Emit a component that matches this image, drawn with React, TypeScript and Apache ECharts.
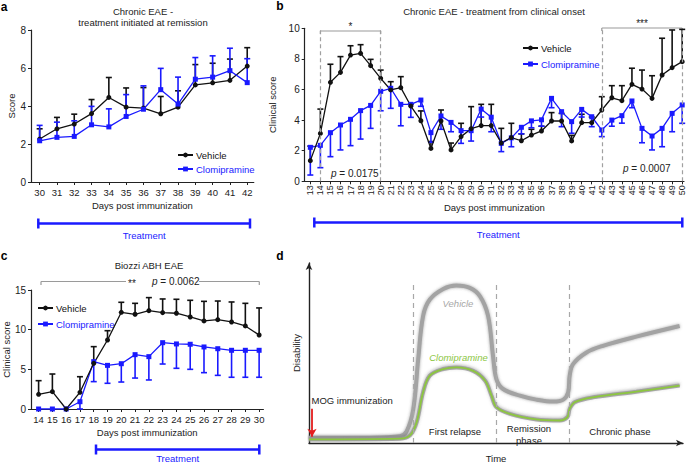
import React, { useEffect, useRef } from 'react';
import * as echarts from 'echarts';

const FONT = '"Liberation Sans", Arial, Helvetica, sans-serif';
const BLUE = '#1a1aff';
const BLACK = '#111111';

// Panel a
const aDays = [30, 31, 32, 33, 34, 35, 36, 37, 38, 39, 40, 41, 42];
const aVehicle = [2.26, 2.8, 3.05, 3.6, 4.45, 3.94, 3.89, 3.59, 3.94, 5.11, 5.22, 5.35, 6.1];
const aVehicleErr = [2.8, 3.4, 3.57, 4.34, 5.5, 4.95, 4.97, 4.5, 4.8, 6.18, 6.25, 6.47, 7.07];
const aClomi = [2.17, 2.35, 2.4, 3.01, 2.9, 3.45, 3.83, 4.86, 4.1, 5.41, 5.52, 5.86, 5.23];
const aClomiErr = [2.98, 3.15, 3.22, 3.98, 3.85, 4.6, 5.06, 5.98, 5.52, 6.55, 6.64, 7.04, 6.49];

// Panel b
const bDays = [13, 14, 15, 16, 17, 18, 19, 20, 21, 22, 23, 24, 25, 26, 27, 28, 29, 30, 31, 32, 33, 34, 35, 36, 37, 38, 39, 40, 41, 42, 43, 44, 45, 46, 47, 48, 49, 50];
const bVehicle = [1.35, 3.13, 6.47, 7.12, 8.25, 8.36, 7.56, 6.73, 5.97, 6.12, 4.92, 3.96, 2.15, 3.94, 2.05, 2.92, 3.44, 3.64, 3.64, 2.5, 2.86, 2.65, 3.02, 3.29, 3.94, 3.94, 2.64, 3.83, 3.83, 4.66, 5.46, 5.27, 6.34, 6.03, 5.42, 6.95, 7.43, 7.82];
const bVehicleErr = [2.3, 4.72, 7.65, 8.15, 8.86, 8.93, 7.97, 7.27, 6.51, 6.84, 5.05, 4.6, 2.6, 4.66, 2.5, 3.79, 4.88, 5.03, 5.03, 3.46, 3.79, 3.1, 3.4, 3.6, 4.49, 4.44, 3.0, 4.38, 4.2, 5.53, 6.25, 6.25, 7.39, 7.27, 6.9, 9.35, 9.89, 9.93];
const bClomi = [2.22, 2.35, 3.18, 3.68, 4.05, 4.62, 4.96, 5.88, 6.08, 5.03, 5.03, 5.31, 3.18, 4.27, 3.85, 3.31, 3.31, 4.72, 4.19, 2.48, 2.84, 3.53, 3.95, 4.02, 5.42, 4.55, 3.9, 4.7, 4.22, 3.35, 4.0, 4.29, 5.25, 3.46, 2.96, 3.46, 4.44, 4.99];
const bClomiErr = [0.41, 0.89, 1.61, 2.05, 2.33, 2.76, 3.46, 4.61, 4.77, 3.63, 4.18, 4.9, 2.55, 3.4, 3.24, 2.48, 2.63, 4.2, 3.24, 1.94, 2.26, 3.1, 3.5, 3.6, 4.81, 3.57, 3.14, 4.2, 3.57, 2.92, 3.6, 3.8, 4.81, 2.52, 2.05, 2.26, 3.24, 3.79];

// Panel c
const cDays = [14, 15, 16, 17, 18, 19, 20, 21, 22, 23, 24, 25, 26, 27, 28, 29, 30];
const cVehicle = [1.85, 2.18, 0, 2.1, 5.76, 8.7, 12.19, 11.94, 12.4, 12.15, 12.07, 11.6, 11.1, 11.26, 10.97, 10.47, 9.33];
const cVehicleErr = [3.57, 4.41, 0, 4.07, 7.86, 9.87, 13.45, 13.32, 14.04, 13.87, 13.83, 13.7, 13.57, 13.61, 13.49, 13.32, 12.74];
const cClomi = [0, 0, 0, 0.92, 5.97, 5.5, 5.71, 6.85, 6.6, 8.36, 8.2, 8.16, 7.82, 7.6, 7.4, 7.4, 7.4];
const cClomiErr = [0, 0, 0, 0, 3.45, 3.24, 3.4, 3.9, 3.66, 5.67, 5.13, 5.0, 4.58, 4.24, 4.0, 4.0, 4.0];

// Panel d (schematic)
const dVehicleT = [0, 16.3, 24.3, 26.1, 27.9, 29.2, 30.5, 32.3, 35.9, 39.4, 43, 45.7, 47.9, 49.2, 50.1, 51.9, 56.4, 60.8, 65.3, 68, 69.3, 69.7, 70.6, 74.2, 78.6, 87.5, 99.1];
const dVehicleY = [2.9, 2.9, 3.7, 6.4, 19, 46.6, 70.5, 79.7, 85.6, 87.5, 86.2, 81.6, 70.5, 48.4, 35.5, 30, 26.3, 24.1, 23, 24.1, 28.2, 37.4, 43.8, 50.3, 54, 59.1, 65];
const dClomiT = [0, 24.3, 27, 28.8, 30.5, 32.3, 35.9, 39.4, 43.9, 47.1, 48.8, 50.1, 53.7, 60.8, 67, 69.1, 69.7, 71.1, 76, 87.5, 99.1];
const dClomiY = [2, 2.4, 4.2, 11.6, 28.2, 37.4, 41.1, 42, 40.1, 34.6, 26.3, 19.9, 16.2, 13.1, 12.5, 14.4, 19, 22.7, 25.4, 28.5, 31.9];
const dPhaseBounds = [27.9, 50, 69.5];

const zip = (xs: number[], ys: number[]) => xs.map((x, i) => [x, ys[i]]);
const zip3 = (xs: number[], ys: number[], es: number[]) => xs.map((x, i) => [x, ys[i], es[i]]);

const errRender = (color: string) => (params: any, api: any) => {
  const x = api.value(0);
  const v = api.value(1);
  const e = api.value(2);
  if (Math.abs(e - v) < 1e-6) return null;
  const p1 = api.coord([x, v]);
  const p2 = api.coord([x, e]);
  return {
    type: 'group',
    children: [
      { type: 'line', shape: { x1: p1[0], y1: p1[1], x2: p2[0], y2: p2[1] }, style: { stroke: color, lineWidth: 1.6 } },
      { type: 'line', shape: { x1: p2[0] - 3, y1: p2[1], x2: p2[0] + 3, y2: p2[1] }, style: { stroke: color, lineWidth: 1.6 } },
    ],
  };
};

const axisText = { fontSize: 9.5, color: '#222', fontFamily: FONT };

const dayAxis = (gridIndex: number, min: number, max: number, days: number[], nameGap: number, rotate = 0, fontSize = 9.5) => ({
  type: 'value',
  gridIndex,
  min,
  max,
  axisLine: { show: true, lineStyle: { color: '#222', width: 1.2 } },
  axisTick: { show: true, customValues: days, length: 3, lineStyle: { color: '#222', width: 1 } },
  axisLabel: { customValues: days, ...axisText, fontSize, margin: rotate ? 4 : 5, rotate },
  splitLine: { show: false },
  name: 'Days post immunization',
  nameLocation: 'middle',
  nameGap,
  nameTextStyle: { ...axisText, fontSize: 9.5 },
});

const scoreAxis = (gridIndex: number, max: number, interval: number, name: string, nameGap: number) => ({
  type: 'value',
  gridIndex,
  min: 0,
  max,
  interval,
  axisLine: { show: true, lineStyle: { color: '#222', width: 1.2 } },
  axisTick: { show: true, length: 3, lineStyle: { color: '#222', width: 1 } },
  axisLabel: { ...axisText, fontSize: 10, margin: 5 },
  splitLine: { show: false },
  name,
  nameLocation: 'middle',
  nameGap,
  nameRotate: 90,
  nameTextStyle: { ...axisText, fontSize: 9.5 },
});

const lineSeries = (name: string, xi: number, xs: number[], ys: number[], color: string, symbol: string, extra: any = {}) => ({
  type: 'line',
  name,
  xAxisIndex: xi,
  yAxisIndex: xi,
  data: zip(xs, ys),
  symbol,
  symbolSize: 5,
  itemStyle: { color },
  lineStyle: { color, width: 1.3 },
  z: 4,
  ...extra,
});

const errSeries = (xi: number, xs: number[], ys: number[], es: number[], color: string) => ({
  type: 'custom',
  xAxisIndex: xi,
  yAxisIndex: xi,
  renderItem: errRender(color),
  data: zip3(xs, ys, es),
  encode: { x: 0, y: [1, 2] },
  z: 3,
  silent: true,
});

const legendAt = (left: number, top: number, gap: number) => ({
  left,
  top,
  orient: 'vertical',
  itemWidth: 15,
  itemHeight: 6,
  itemGap: gap,
  selectedMode: false,
  data: [
    { name: 'Vehicle', textStyle: { color: '#111' } },
    { name: 'Clomipramine', textStyle: { color: BLUE } },
  ],
  textStyle: { fontSize: 9.5, fontFamily: FONT, padding: [0, 0, 0, -2] },
});

const txt = (text: string, x: number, y: number, extra: any = {}) => ({
  type: 'text',
  style: { text, x, y, fill: '#222', fontSize: 9.5, fontFamily: FONT, textAlign: 'center', textVerticalAlign: 'middle', ...extra },
  silent: true,
});

const hline = (x1: number, x2: number, y: number, stroke: string, lineWidth: number) => ({
  type: 'line',
  shape: { x1, y1: y, x2, y2: y },
  style: { stroke, lineWidth },
  silent: true,
});

const vline = (x: number, y1: number, y2: number, stroke: string, lineWidth: number) => ({
  type: 'line',
  shape: { x1: x, y1, x2: x, y2 },
  style: { stroke, lineWidth },
  silent: true,
});

const treatment = (x1: number, x2: number, y: number, ty: number) => [
  hline(x1, x2, y, BLUE, 2.5),
  vline(x1, y - 5, y + 5, BLUE, 2.5),
  vline(x2, y - 5, y + 5, BLUE, 2.5),
  txt('Treatment', (x1 + x2) / 2, ty, { fill: BLUE, fontSize: 9.5 }),
];

const bracket = (x1: number, x2: number, y: number) => [
  hline(x1, x2, y, '#9a9a9a', 1.2),
  vline(x1, y, y + 3, '#9a9a9a', 1.2),
  vline(x2, y, y + 3, '#9a9a9a', 1.2),
];

const pText = (val: string, x: number, y: number, align = 'left') => ({
  type: 'text',
  style: {
    text: '{i|p} = ' + val,
    x,
    y,
    fill: '#222',
    fontSize: 10,
    fontFamily: FONT,
    textAlign: align,
    textVerticalAlign: 'middle',
    rich: { i: { fontStyle: 'italic', fontSize: 10, fontFamily: FONT, fill: '#222' } },
  },
  silent: true,
});

export default function App() {
  const ref = useRef<HTMLDivElement>(null);
  useEffect(() => {
    if (!ref.current) return;
    const chart = echarts.init(ref.current, null, { renderer: 'svg' });
    const dGray = '#a3a3a3';
    const dGreen = '#8cc63f';
    const option: any = {
      animation: false,
      backgroundColor: '#ffffff',
      textStyle: { fontFamily: FONT },
      grid: [
        { left: 31, top: 30, width: 222.8, height: 152 },
        { left: 304.7, top: 28.3, width: 379.3, height: 153 },
        { left: 30.7, top: 290, width: 232.7, height: 119 },
        { left: 309, top: 263, width: 374, height: 181 },
      ],
      xAxis: [
        dayAxis(0, 29.5, 42.38, aDays, 18),
        dayAxis(1, 12.44, 50.18, bDays, 21, 90, 9),
        dayAxis(2, 13.45, 30.31, cDays, 18),
        {
          type: 'value', gridIndex: 3, min: 0, max: 100,
          axisLine: { show: true, symbol: ['none', 'arrow'], symbolSize: [5, 7], lineStyle: { color: '#222', width: 1.4 } },
          axisTick: { show: false }, axisLabel: { show: false }, splitLine: { show: false },
          name: 'Time', nameLocation: 'middle', nameGap: 10, nameTextStyle: { ...axisText, fontSize: 9.5 },
        },
      ],
      yAxis: [
        scoreAxis(0, 8, 2, 'Score', 14),
        scoreAxis(1, 10, 2, 'Clinical score', 19),
        scoreAxis(2, 15, 5, 'Clinical score', 15),
        {
          type: 'value', gridIndex: 3, min: 0, max: 100,
          axisLine: { show: true, symbol: ['none', 'arrow'], symbolSize: [5, 7], lineStyle: { color: '#222', width: 1.4 } },
          axisTick: { show: false }, axisLabel: { show: false }, splitLine: { show: false },
          name: 'Disability', nameLocation: 'middle', nameGap: 8, nameRotate: 90, nameTextStyle: { ...axisText, fontSize: 9.5 },
        },
      ],
      legend: [legendAt(172, 145, 4), legendAt(517, 38, 6), legendAt(32, 298, 6)],
      series: [
        // a
        errSeries(0, aDays, aVehicle, aVehicleErr, BLACK),
        errSeries(0, aDays, aClomi, aClomiErr, BLUE),
        lineSeries('Vehicle', 0, aDays, aVehicle, BLACK, 'circle'),
        lineSeries('Clomipramine', 0, aDays, aClomi, BLUE, 'rect'),
        // b
        errSeries(1, bDays, bVehicle, bVehicleErr, BLACK),
        errSeries(1, bDays, bClomi, bClomiErr, BLUE),
        lineSeries('Clomipramine', 1, bDays, bClomi, BLUE, 'rect', {
          markLine: {
            silent: true,
            symbol: ['none', 'none'],
            label: { show: false },
            lineStyle: { color: '#a0a0a0', type: [4, 3], width: 1.2 },
            data: [{ xAxis: 14 }, { xAxis: 20 }, { xAxis: 42 }, { xAxis: 50 }],
          },
        }),
        lineSeries('Vehicle', 1, bDays, bVehicle, BLACK, 'circle'),
        // c
        errSeries(2, cDays, cVehicle, cVehicleErr, BLACK),
        errSeries(2, cDays, cClomi, cClomiErr, BLUE),
        lineSeries('Clomipramine', 2, cDays, cClomi, BLUE, 'rect'),
        lineSeries('Vehicle', 2, cDays, cVehicle, BLACK, 'circle'),
        // d
        {
          type: 'line', name: 'dVehicle', xAxisIndex: 3, yAxisIndex: 3,
          data: zip(dVehicleT, dVehicleY), smooth: 0.35, showSymbol: false, symbol: 'none',
          lineStyle: { color: dGray, width: 4, shadowColor: 'rgba(90,90,90,0.55)', shadowBlur: 3 },
          z: 3,
          markLine: {
            silent: true,
            symbol: ['none', 'none'],
            label: { show: false },
            lineStyle: { color: '#a8a8a8', type: [5, 4], width: 1.2 },
            data: dPhaseBounds.map((t) => [{ coord: [t, 0] }, { coord: [t, 89] }]),
          },
        },
        {
          type: 'line', name: 'dClomiShadow', xAxisIndex: 3, yAxisIndex: 3,
          data: zip(dClomiT, dClomiY), smooth: 0.35, showSymbol: false, symbol: 'none',
          lineStyle: { color: 'rgba(150,150,150,0.8)', width: 4, shadowColor: 'rgba(90,90,90,0.5)', shadowBlur: 3, shadowOffsetY: -1 },
          z: 3,
        },
        {
          type: 'line', name: 'dClomipramine', xAxisIndex: 3, yAxisIndex: 3,
          data: zip(dClomiT, dClomiY), smooth: 0.35, showSymbol: false, symbol: 'none',
          lineStyle: { color: dGreen, width: 1.8 },
          z: 4,
          markLine: {
            silent: true,
            symbol: ['none', 'arrow'],
            symbolSize: [7, 8],
            label: { show: false },
            lineStyle: { color: '#e41e1e', type: 'solid', width: 1.8 },
            data: [[{ coord: [0.8, 19] }, { coord: [0.8, 3.5] }]],
          },
        },
      ],
      graphic: [
        // panel letters
        txt('a', 4, 7, { fontWeight: 'bold', fontSize: 12, fill: '#000' }),
        txt('b', 280, 6, { fontWeight: 'bold', fontSize: 12, fill: '#000' }),
        txt('c', 4, 256, { fontWeight: 'bold', fontSize: 12, fill: '#000' }),
        txt('d', 280, 256, { fontWeight: 'bold', fontSize: 12, fill: '#000' }),
        // titles
        txt('Chronic EAE -', 143, 11),
        txt('treatment initiated at remission', 143, 22),
        txt('Chronic EAE - treatment from clinical onset', 494, 11),
        txt('Biozzi ABH EAE', 149, 265),
        // treatment bars
        ...treatment(38.3, 250, 223.5, 235),
        ...treatment(314.3, 682.3, 222.5, 234.5),
        ...treatment(96, 259.3, 449.5, 458.5),
        // brackets in b
        ...bracket(320.4, 380.7, 31),
        txt('*', 350.5, 26, { fontSize: 10 }),
        ...bracket(601.8, 682.2, 28),
        txt('***', 642, 23, { fontSize: 10 }),
        pText('0.0175', 331, 173),
        pText('0.0007', 623, 168.5),
        // bracket in c
        hline(41, 126, 281.5, '#9a9a9a', 1.2),
        hline(199, 259.3, 281.5, '#9a9a9a', 1.2),
        vline(41, 281.5, 285, '#9a9a9a', 1.2),
        vline(259.3, 281.5, 285, '#9a9a9a', 1.2),
        txt('**', 132, 283, { fontSize: 10 }),
        pText('0.0062', 152, 281),
        // panel d labels
        txt('MOG immunization', 311.5, 400.5, { textAlign: 'left', fontSize: 9.5 }),
        txt('First relapse', 455, 431.5),
        txt('Remission', 529, 428.5),
        txt('phase', 529, 440),
        txt('Chronic phase', 620, 431.5),
        txt('Vehicle', 458, 303.5, { fontStyle: 'italic', fill: '#a8a8a8' }),
        txt('Clomipramine', 458.5, 357, { fontStyle: 'italic', fill: dGreen }),
      ],
    };
    chart.setOption(option);
    return () => chart.dispose();
  }, []);
  return (
    <div
      ref={ref}
      style={{ position: 'fixed', left: 0, top: 0, width: 689, height: 464, background: '#fff' }}
    />
  );
}
